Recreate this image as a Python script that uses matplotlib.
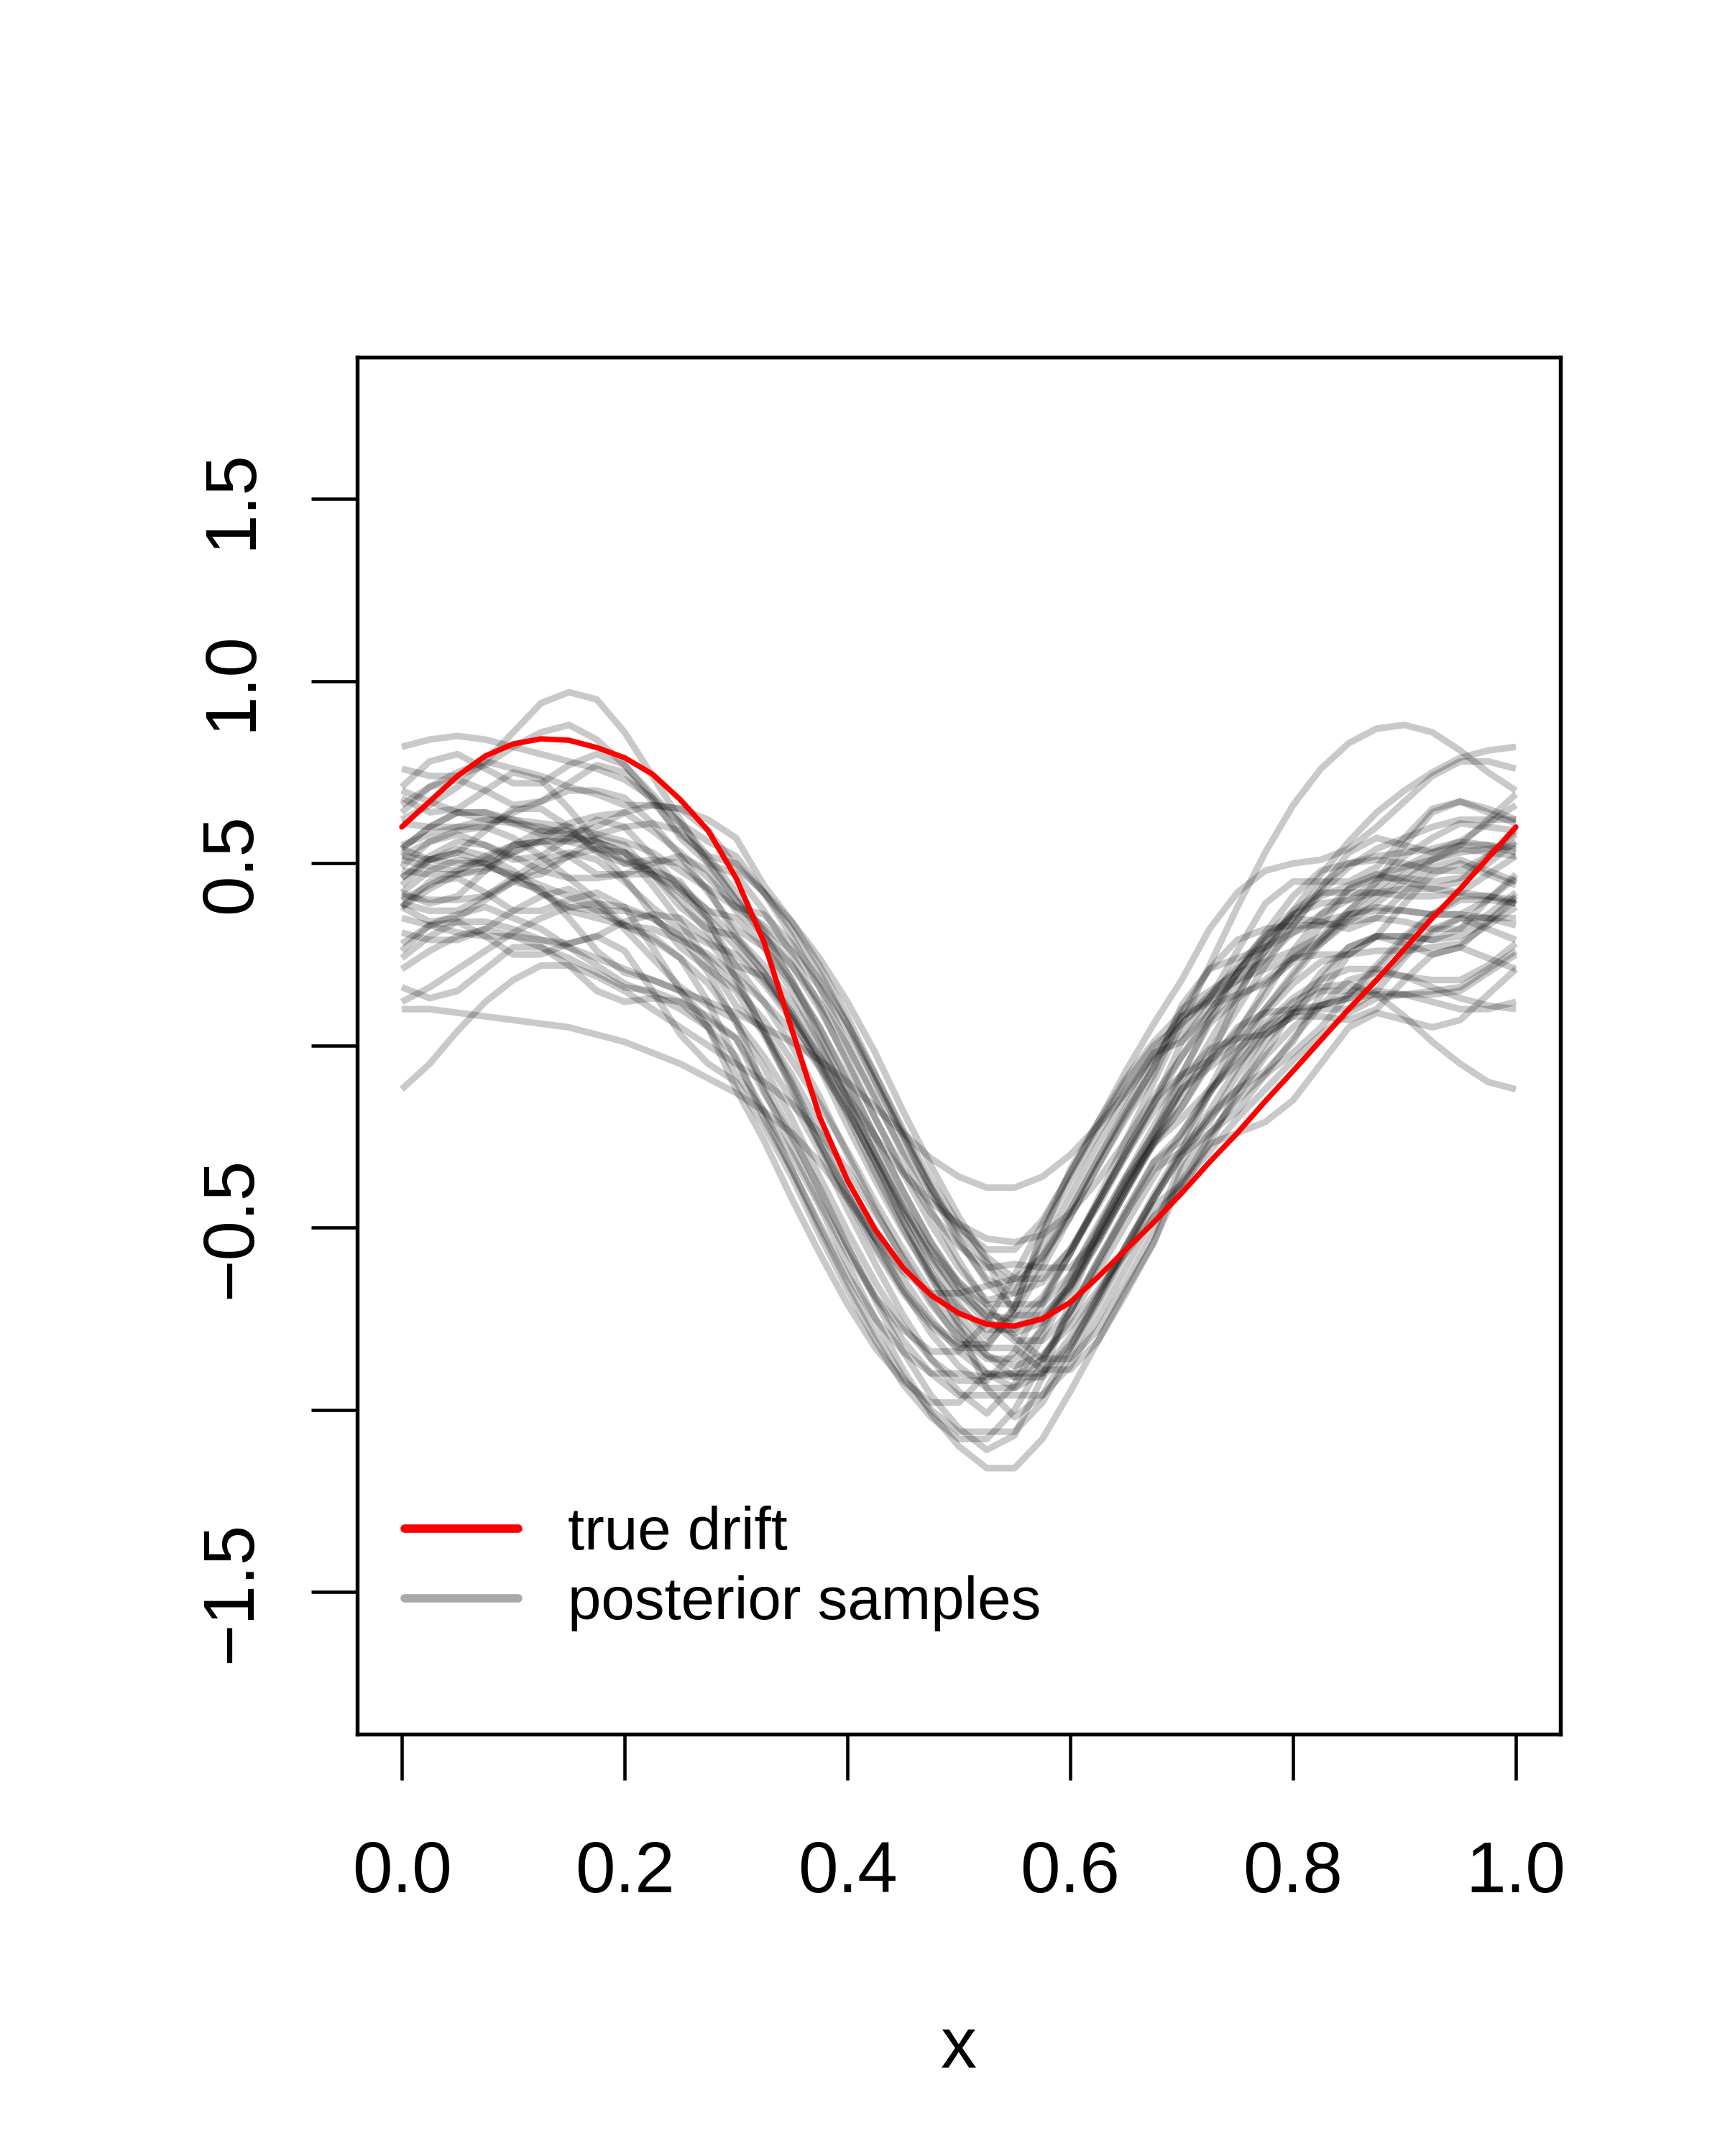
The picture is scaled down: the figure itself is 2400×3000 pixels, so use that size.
import matplotlib
matplotlib.use('Agg')
import matplotlib.pyplot as plt
from matplotlib.lines import Line2D

plt.rcParams['font.family'] = ['Liberation Sans', 'DejaVu Sans']

x_grid = [0.0, 0.025, 0.05, 0.075, 0.1, 0.125, 0.15, 0.175, 0.2, 0.225, 0.25,
          0.275, 0.3, 0.325, 0.35, 0.375, 0.4, 0.425, 0.45, 0.475, 0.5, 0.525,
          0.55, 0.575, 0.6, 0.625, 0.65, 0.675, 0.7, 0.725, 0.75, 0.775, 0.8,
          0.825, 0.85, 0.875, 0.9, 0.925, 0.95, 0.975, 1.0]

# posterior samples, one list per curve (values at x_grid)
samples = [
    [0.46, 0.52, 0.56, 0.55, 0.52, 0.48, 0.46, 0.46, 0.47, 0.47, 0.43, 0.34, 0.22, 0.12, 0.00, -0.14, -0.30, -0.45, -0.59, -0.71, -0.80, -0.86, -0.86, -0.78, -0.65, -0.51, -0.37, -0.24, -0.12, -0.06, 0.00, 0.10, 0.20, 0.29, 0.36, 0.38, 0.37, 0.36, 0.36, 0.40, 0.46],
    [0.54, 0.51, 0.53, 0.59, 0.65, 0.65, 0.60, 0.53, 0.50, 0.51, 0.50, 0.43, 0.30, 0.20, 0.08, -0.06, -0.22, -0.37, -0.51, -0.63, -0.72, -0.78, -0.78, -0.70, -0.57, -0.43, -0.29, -0.16, 0.01, 0.11, 0.14, 0.17, 0.23, 0.33, 0.43, 0.47, 0.45, 0.43, 0.45, 0.52, 0.59],
    [0.38, 0.43, 0.47, 0.49, 0.47, 0.44, 0.41, 0.37, 0.33, 0.32, 0.29, 0.25, 0.19, 0.04, -0.08, -0.22, -0.38, -0.53, -0.67, -0.79, -0.88, -0.94, -0.94, -0.86, -0.73, -0.59, -0.45, -0.32, -0.26, -0.13, -0.02, 0.09, 0.17, 0.23, 0.25, 0.26, 0.26, 0.27, 0.28, 0.33, 0.38],
    [0.49, 0.56, 0.58, 0.55, 0.51, 0.52, 0.57, 0.62, 0.60, 0.52, 0.43, 0.37, 0.35, 0.27, 0.17, 0.05, -0.09, -0.25, -0.40, -0.54, -0.66, -0.75, -0.81, -0.81, -0.73, -0.60, -0.46, -0.32, -0.24, -0.12, 0.03, 0.16, 0.24, 0.25, 0.25, 0.30, 0.39, 0.47, 0.50, 0.47, 0.44],
    [0.39, 0.37, 0.37, 0.41, 0.46, 0.51, 0.53, 0.51, 0.45, 0.38, 0.32, 0.28, 0.25, 0.17, 0.07, -0.05, -0.19, -0.35, -0.50, -0.64, -0.76, -0.85, -0.91, -0.91, -0.83, -0.70, -0.56, -0.42, -0.29, -0.13, -0.01, 0.05, 0.09, 0.11, 0.14, 0.21, 0.29, 0.36, 0.41, 0.41, 0.39],
    [0.52, 0.51, 0.50, 0.50, 0.53, 0.56, 0.57, 0.56, 0.53, 0.44, 0.34, 0.23, 0.11, 0.04, -0.10, -0.26, -0.41, -0.55, -0.67, -0.76, -0.82, -0.82, -0.74, -0.61, -0.47, -0.33, -0.20, -0.08, 0.08, 0.13, 0.18, 0.21, 0.24, 0.28, 0.35, 0.41, 0.47, 0.51, 0.54, 0.53, 0.52],
    [0.42, 0.48, 0.51, 0.50, 0.46, 0.42, 0.38, 0.37, 0.37, 0.35, 0.30, 0.20, 0.06, -0.06, -0.20, -0.36, -0.51, -0.65, -0.77, -0.86, -0.92, -0.92, -0.84, -0.71, -0.57, -0.43, -0.30, -0.18, -0.08, -0.04, 0.02, 0.10, 0.19, 0.28, 0.34, 0.35, 0.34, 0.32, 0.32, 0.36, 0.42],
    [0.42, 0.39, 0.41, 0.48, 0.55, 0.56, 0.52, 0.47, 0.47, 0.50, 0.52, 0.48, 0.37, 0.30, 0.22, 0.12, 0.00, -0.14, -0.30, -0.45, -0.59, -0.71, -0.80, -0.86, -0.86, -0.78, -0.65, -0.51, -0.32, -0.19, -0.12, -0.07, 0.01, 0.14, 0.25, 0.30, 0.30, 0.29, 0.32, 0.40, 0.47],
    [0.52, 0.56, 0.59, 0.60, 0.57, 0.52, 0.46, 0.40, 0.33, 0.29, 0.24, 0.17, 0.07, -0.12, -0.28, -0.43, -0.57, -0.69, -0.78, -0.84, -0.84, -0.76, -0.63, -0.49, -0.35, -0.22, -0.10, 0.00, 0.06, 0.13, 0.22, 0.30, 0.37, 0.42, 0.42, 0.42, 0.41, 0.41, 0.42, 0.47, 0.52],
    [0.54, 0.60, 0.64, 0.64, 0.61, 0.58, 0.56, 0.58, 0.60, 0.61, 0.59, 0.51, 0.40, 0.32, 0.22, 0.10, -0.04, -0.20, -0.35, -0.49, -0.61, -0.70, -0.68, -0.55, -0.41, -0.27, -0.14, -0.02, 0.08, 0.12, 0.18, 0.26, 0.35, 0.44, 0.50, 0.51, 0.50, 0.48, 0.48, 0.52, 0.58],
    [0.38, 0.45, 0.46, 0.42, 0.37, 0.37, 0.40, 0.42, 0.38, 0.27, 0.15, 0.07, 0.02, -0.10, -0.24, -0.40, -0.55, -0.69, -0.81, -0.90, -0.96, -0.96, -0.96, -0.96, -0.88, -0.75, -0.61, -0.47, -0.39, -0.27, -0.12, 0.01, 0.09, 0.10, 0.10, 0.15, 0.24, 0.32, 0.35, 0.32, 0.29],
    [0.61, 0.60, 0.60, 0.60, 0.64, 0.67, 0.70, 0.70, 0.68, 0.61, 0.52, 0.42, 0.32, 0.27, 0.15, 0.01, -0.15, -0.30, -0.44, -0.56, -0.65, -0.71, -0.71, -0.71, -0.63, -0.50, -0.36, -0.22, -0.08, 0.06, 0.13, 0.18, 0.24, 0.29, 0.37, 0.45, 0.52, 0.57, 0.61, 0.60, 0.59],
    [0.31, 0.29, 0.29, 0.32, 0.37, 0.41, 0.43, 0.39, 0.32, 0.24, 0.16, 0.11, 0.07, -0.03, -0.15, -0.29, -0.45, -0.60, -0.74, -0.86, -0.95, -1.01, -0.93, -0.80, -0.66, -0.52, -0.39, -0.27, -0.17, -0.05, 0.05, 0.09, 0.10, 0.11, 0.13, 0.18, 0.25, 0.31, 0.35, 0.35, 0.33],
    [0.64, 0.71, 0.73, 0.70, 0.66, 0.67, 0.72, 0.77, 0.75, 0.67, 0.58, 0.52, 0.50, 0.42, 0.32, 0.20, 0.06, -0.10, -0.25, -0.39, -0.51, -0.60, -0.66, -0.58, -0.45, -0.31, -0.17, -0.04, 0.03, 0.13, 0.26, 0.39, 0.45, 0.45, 0.45, 0.49, 0.57, 0.65, 0.67, 0.64, 0.61],
    [0.28, 0.33, 0.36, 0.38, 0.35, 0.32, 0.27, 0.22, 0.17, 0.14, 0.10, 0.05, -0.03, -0.20, -0.34, -0.50, -0.65, -0.79, -0.91, -1.00, -1.06, -1.06, -1.06, -0.98, -0.85, -0.71, -0.57, -0.44, -0.38, -0.25, -0.14, -0.03, 0.05, 0.11, 0.13, 0.14, 0.14, 0.15, 0.16, 0.21, 0.26],
    [0.54, 0.60, 0.64, 0.64, 0.62, 0.59, 0.58, 0.60, 0.64, 0.66, 0.65, 0.59, 0.49, 0.42, 0.34, 0.24, 0.12, -0.02, -0.18, -0.33, -0.47, -0.59, -0.74, -0.74, -0.66, -0.53, -0.39, -0.25, -0.12, -0.04, 0.04, 0.14, 0.26, 0.36, 0.43, 0.46, 0.46, 0.45, 0.46, 0.50, 0.56],
    [0.38, 0.34, 0.35, 0.40, 0.45, 0.43, 0.35, 0.26, 0.20, 0.18, 0.15, 0.05, -0.12, -0.26, -0.42, -0.57, -0.71, -0.83, -0.92, -0.98, -0.98, -0.90, -0.90, -0.77, -0.63, -0.49, -0.36, -0.24, -0.09, -0.01, 0.02, 0.03, 0.08, 0.18, 0.27, 0.30, 0.28, 0.25, 0.27, 0.34, 0.41],
    [0.41, 0.40, 0.40, 0.41, 0.45, 0.49, 0.52, 0.54, 0.53, 0.47, 0.40, 0.31, 0.22, 0.19, 0.09, -0.03, -0.17, -0.33, -0.48, -0.62, -0.74, -0.83, -0.83, -0.89, -0.89, -0.81, -0.68, -0.54, -0.34, -0.24, -0.15, -0.08, -0.02, 0.05, 0.14, 0.22, 0.30, 0.36, 0.40, 0.40, 0.39],
    [0.51, 0.49, 0.48, 0.51, 0.55, 0.59, 0.59, 0.54, 0.46, 0.36, 0.27, 0.21, 0.15, 0.03, -0.11, -0.27, -0.42, -0.56, -0.68, -0.77, -0.83, -0.83, -0.72, -0.52, -0.34, -0.21, -0.09, 0.01, 0.09, 0.21, 0.29, 0.32, 0.33, 0.33, 0.34, 0.39, 0.45, 0.51, 0.55, 0.55, 0.53],
    [0.71, 0.78, 0.80, 0.76, 0.72, 0.72, 0.77, 0.80, 0.77, 0.68, 0.57, 0.50, 0.47, 0.37, 0.25, 0.11, -0.05, -0.20, -0.34, -0.46, -0.55, -0.61, -0.60, -0.61, -0.61, -0.53, -0.40, -0.26, -0.17, -0.04, 0.13, 0.28, 0.36, 0.39, 0.40, 0.45, 0.55, 0.64, 0.67, 0.65, 0.62],
    [0.21, 0.26, 0.30, 0.32, 0.30, 0.27, 0.24, 0.20, 0.16, 0.15, 0.12, 0.08, 0.02, -0.13, -0.25, -0.39, -0.55, -0.70, -0.84, -0.96, -1.05, -1.11, -1.07, -0.91, -0.70, -0.51, -0.37, -0.27, -0.20, -0.12, -0.05, 0.03, 0.10, 0.15, 0.15, 0.15, 0.14, 0.14, 0.15, 0.20, 0.25],
    [0.24, 0.30, 0.34, 0.34, 0.32, 0.29, 0.28, 0.30, 0.34, 0.36, 0.35, 0.29, 0.19, 0.12, 0.04, -0.06, -0.18, -0.32, -0.48, -0.63, -0.77, -0.94, -1.02, -0.96, -0.83, -0.69, -0.55, -0.42, -0.30, -0.24, -0.18, -0.08, 0.02, 0.11, 0.18, 0.20, 0.19, 0.18, 0.18, 0.22, 0.28],
    [0.68, 0.64, 0.65, 0.70, 0.75, 0.73, 0.65, 0.56, 0.50, 0.48, 0.45, 0.35, 0.18, 0.04, -0.12, -0.27, -0.41, -0.53, -0.62, -0.68, -0.68, -0.66, -0.64, -0.58, -0.47, -0.33, -0.19, -0.06, 0.11, 0.21, 0.24, 0.27, 0.33, 0.43, 0.53, 0.57, 0.55, 0.53, 0.55, 0.62, 0.69],
    [0.66, 0.71, 0.75, 0.78, 0.76, 0.74, 0.71, 0.69, 0.66, 0.66, 0.65, 0.62, 0.57, 0.44, 0.34, 0.22, 0.08, -0.08, -0.23, -0.37, -0.49, -0.58, -0.64, -0.64, -0.56, -0.43, -0.29, -0.15, -0.08, 0.07, 0.20, 0.31, 0.41, 0.48, 0.50, 0.52, 0.53, 0.54, 0.56, 0.61, 0.66],
    [0.26, 0.33, 0.34, 0.30, 0.25, 0.25, 0.28, 0.30, 0.26, 0.15, 0.03, -0.05, -0.10, -0.22, -0.36, -0.52, -0.67, -0.81, -0.93, -1.02, -1.08, -1.08, -1.00, -0.87, -0.73, -0.59, -0.46, -0.34, -0.29, -0.21, -0.08, 0.03, 0.08, 0.08, 0.07, 0.10, 0.18, 0.25, 0.27, 0.24, 0.21],
    [0.76, 0.74, 0.74, 0.77, 0.82, 0.86, 0.88, 0.84, 0.77, 0.69, 0.61, 0.56, 0.52, 0.42, 0.30, 0.16, 0.00, -0.15, -0.29, -0.41, -0.50, -0.56, -0.56, -0.48, -0.35, -0.21, -0.07, 0.06, 0.18, 0.32, 0.42, 0.48, 0.50, 0.51, 0.54, 0.60, 0.67, 0.74, 0.78, 0.78, 0.76],
    [0.16, 0.13, 0.15, 0.21, 0.27, 0.27, 0.22, 0.15, 0.12, 0.13, 0.12, 0.05, -0.08, -0.18, -0.30, -0.44, -0.60, -0.75, -0.89, -1.01, -1.10, -1.16, -1.16, -1.08, -0.95, -0.81, -0.67, -0.54, -0.37, -0.27, -0.24, -0.21, -0.15, -0.05, 0.05, 0.09, 0.07, 0.05, 0.07, 0.14, 0.21],
    [0.48, 0.47, 0.47, 0.48, 0.53, 0.57, 0.61, 0.63, 0.64, 0.59, 0.53, 0.46, 0.38, 0.36, 0.28, 0.18, 0.06, -0.08, -0.24, -0.39, -0.53, -0.65, -0.72, -0.59, -0.45, -0.31, -0.18, -0.06, 0.10, 0.15, 0.20, 0.23, 0.26, 0.30, 0.37, 0.43, 0.49, 0.53, 0.56, 0.55, 0.54],
    [0.46, 0.51, 0.54, 0.52, 0.48, 0.42, 0.37, 0.35, 0.33, 0.30, 0.24, 0.12, -0.04, -0.18, -0.34, -0.49, -0.63, -0.75, -0.84, -0.90, -0.90, -0.91, -0.90, -0.90, -0.82, -0.69, -0.55, -0.41, -0.28, -0.20, -0.12, -0.02, 0.10, 0.20, 0.27, 0.30, 0.30, 0.29, 0.30, 0.34, 0.40],
    [0.44, 0.51, 0.53, 0.50, 0.46, 0.47, 0.52, 0.57, 0.55, 0.47, 0.38, 0.32, 0.30, 0.22, 0.12, 0.00, -0.14, -0.30, -0.45, -0.59, -0.71, -0.80, -0.72, -0.51, -0.37, -0.24, -0.12, -0.02, 0.01, 0.09, 0.20, 0.30, 0.35, 0.34, 0.32, 0.35, 0.42, 0.49, 0.51, 0.48, 0.45],
    [0.62, 0.66, 0.71, 0.78, 0.86, 0.94, 0.97, 0.95, 0.86, 0.74, 0.62, 0.50, 0.40, 0.30, 0.18, 0.05, -0.10, -0.25, -0.40, -0.54, -0.65, -0.73, -0.77, -0.75, -0.66, -0.54, -0.40, -0.27, -0.14, -0.02, 0.10, 0.22, 0.33, 0.42, 0.49, 0.54, 0.57, 0.60, 0.62, 0.62, 0.62],
    [-0.12, -0.05, 0.04, 0.12, 0.18, 0.22, 0.22, 0.19, 0.15, 0.10, 0.05, 0.00, -0.05, -0.10, -0.16, -0.24, -0.34, -0.46, -0.58, -0.70, -0.81, -0.90, -0.94, -0.90, -0.80, -0.68, -0.55, -0.42, -0.30, -0.18, -0.06, 0.05, 0.12, 0.16, 0.17, 0.14, 0.08, 0.01, -0.05, -0.10, -0.12],
    [0.35, 0.33, 0.31, 0.30, 0.30, 0.29, 0.27, 0.24, 0.21, 0.18, 0.15, 0.12, 0.09, 0.05, 0.01, -0.04, -0.10, -0.17, -0.24, -0.31, -0.36, -0.39, -0.39, -0.36, -0.30, -0.22, -0.13, -0.03, 0.06, 0.14, 0.21, 0.27, 0.31, 0.34, 0.36, 0.37, 0.37, 0.36, 0.36, 0.35, 0.35],
    [0.70, 0.67, 0.64, 0.62, 0.61, 0.60, 0.58, 0.56, 0.53, 0.49, 0.44, 0.37, 0.29, 0.20, 0.09, -0.04, -0.18, -0.32, -0.46, -0.58, -0.68, -0.74, -0.75, -0.69, -0.57, -0.42, -0.26, -0.10, 0.06, 0.22, 0.38, 0.53, 0.66, 0.76, 0.83, 0.87, 0.88, 0.86, 0.81, 0.75, 0.70],
    [0.55, 0.58, 0.60, 0.62, 0.62, 0.61, 0.60, 0.58, 0.56, 0.53, 0.48, 0.43, 0.38, 0.33, 0.26, 0.16, 0.04, -0.10, -0.25, -0.40, -0.54, -0.64, -0.68, -0.65, -0.56, -0.44, -0.30, -0.16, -0.03, 0.09, 0.20, 0.29, 0.36, 0.41, 0.44, 0.47, 0.49, 0.51, 0.53, 0.54, 0.55],
    [0.10, 0.10, 0.09, 0.08, 0.07, 0.06, 0.05, 0.03, 0.01, -0.02, -0.05, -0.09, -0.13, -0.18, -0.24, -0.32, -0.42, -0.53, -0.64, -0.75, -0.84, -0.90, -0.91, -0.86, -0.75, -0.62, -0.49, -0.36, -0.24, -0.13, -0.03, 0.06, 0.13, 0.18, 0.21, 0.21, 0.19, 0.16, 0.13, 0.11, 0.10],
    [0.82, 0.84, 0.85, 0.84, 0.82, 0.80, 0.78, 0.76, 0.73, 0.68, 0.61, 0.52, 0.42, 0.31, 0.18, 0.03, -0.13, -0.29, -0.44, -0.57, -0.68, -0.76, -0.79, -0.76, -0.67, -0.54, -0.40, -0.26, -0.12, 0.01, 0.14, 0.26, 0.37, 0.47, 0.56, 0.64, 0.70, 0.75, 0.79, 0.81, 0.82],
    [0.12, 0.16, 0.21, 0.26, 0.31, 0.35, 0.38, 0.39, 0.38, 0.35, 0.30, 0.24, 0.16, 0.07, -0.04, -0.16, -0.29, -0.43, -0.56, -0.68, -0.78, -0.85, -0.88, -0.85, -0.77, -0.67, -0.57, -0.47, -0.38, -0.29, -0.20, -0.12, -0.04, 0.03, 0.09, 0.13, 0.14, 0.12, 0.10, 0.10, 0.12],
    [0.40, 0.44, 0.48, 0.52, 0.55, 0.56, 0.56, 0.54, 0.51, 0.47, 0.42, 0.35, 0.27, 0.18, 0.08, -0.03, -0.14, -0.25, -0.35, -0.43, -0.49, -0.53, -0.54, -0.52, -0.46, -0.37, -0.26, -0.14, -0.03, 0.07, 0.16, 0.24, 0.31, 0.36, 0.40, 0.42, 0.43, 0.43, 0.42, 0.41, 0.40],
]

# true drift, values at x_grid
drift_y = [0.60, 0.67, 0.74, 0.795, 0.828, 0.842, 0.838, 0.818, 0.79, 0.745, 0.675,
           0.59, 0.46, 0.285, 0.045, -0.195, -0.37, -0.505, -0.61, -0.685, -0.735, -0.765,
           -0.77, -0.75, -0.705, -0.635, -0.56, -0.485, -0.405, -0.32, -0.24, -0.153, -0.07,
           0.015, 0.10, 0.18, 0.265, 0.35, 0.43, 0.515, 0.60]

x_ticks = [0.0, 0.2, 0.4, 0.6, 0.8, 1.0]
x_tick_labels = ['0.0', '0.2', '0.4', '0.6', '0.8', '1.0']
y_ticks = [-1.5, -1.0, -0.5, 0.0, 0.5, 1.0, 1.5]
y_tick_labels = ['\u22121.5', '', '\u22120.5', '', '0.5', '1.0', '1.5']

fig = plt.figure(figsize=(8, 10), dpi=300)
ax = fig.add_axes([0.2071, 0.1957, 0.6975, 0.6387])

for s in samples:
    ax.plot(x_grid, s, color='black', alpha=0.21, lw=2.2,
            solid_joinstyle='round', solid_capstyle='butt')
ax.plot(x_grid, drift_y, color='red', lw=1.8, solid_capstyle='round')

ax.set_xlim(-0.04, 1.04)
ax.set_ylim(-1.89, 1.89)
ax.set_xticks(x_ticks, x_tick_labels)
ax.set_yticks(y_ticks, y_tick_labels)
ax.tick_params(direction='out', length=15.4, width=1.1, labelsize=24)
ax.tick_params(axis='x', pad=20)
ax.tick_params(axis='y', pad=15)
for lab in ax.get_yticklabels():
    lab.set_rotation(90)
    lab.set_va('center')
for sp in ax.spines.values():
    sp.set_linewidth(1.3)
ax.set_xlabel('x', fontsize=24, labelpad=36)

handles = [Line2D([], [], color='red', lw=2.8, solid_capstyle='round'),
           Line2D([], [], color='#A9A9A9', lw=2.8, solid_capstyle='round')]
ax.legend(handles, ['true drift', 'posterior samples'], loc='upper left',
          bbox_to_anchor=(563 / 2400, 905 / 3000), bbox_transform=fig.transFigure,
          frameon=False, fontsize=20, handlelength=1.9, handletextpad=0.82,
          labelspacing=0.23, borderpad=0, borderaxespad=0)

fig.savefig('out.png', dpi=300)
